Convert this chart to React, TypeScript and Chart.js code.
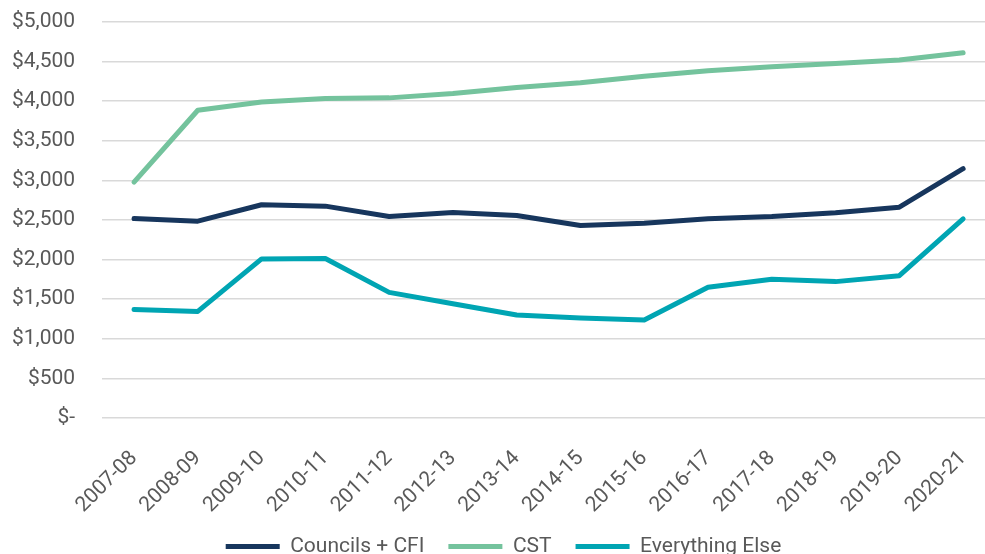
import React, { useEffect, useRef } from "react";
import { Chart, registerables } from "chart.js";

Chart.register(...registerables);

const categories = [
  "2007-08", "2008-09", "2009-10", "2010-11", "2011-12", "2012-13", "2013-14",
  "2014-15", "2015-16", "2016-17", "2017-18", "2018-19", "2019-20", "2020-21",
];

const councilsCfi = [2519, 2485, 2692, 2675, 2544, 2595, 2557, 2430, 2460, 2515, 2544, 2591, 2662, 3148];
const cst = [2978, 3886, 3991, 4034, 4042, 4097, 4173, 4232, 4316, 4384, 4434, 4477, 4519, 4612];
const everythingElse = [1371, 1346, 2009, 2013, 1586, 1443, 1300, 1262, 1237, 1650, 1751, 1722, 1797, 2515];

const yTicks = [0, 500, 1000, 1500, 2000, 2500, 3000, 3500, 4000, 4500, 5000];

const Y_PAD = 27;
const X_PAD = 28;

export default function App() {
  const ref = useRef<HTMLCanvasElement | null>(null);

  useEffect(() => {
    if (!ref.current) return;
    const font = "Roboto";
    const chart = new Chart(ref.current, {
      type: "line",
      data: {
        labels: categories,
        datasets: [
          { label: "Councils + CFI", data: councilsCfi, borderColor: "#17365D", backgroundColor: "#17365D" },
          { label: "CST", data: cst, borderColor: "#74C39D", backgroundColor: "#74C39D" },
          { label: "Everything Else", data: everythingElse, borderColor: "#00A5B3", backgroundColor: "#00A5B3" },
        ].map((d) => ({
          ...d,
          borderWidth: 5,
          pointRadius: 0,
          pointStyle: "line" as const,
          tension: 0,
          borderJoinStyle: "round" as const,
          borderCapStyle: "round" as const,
          fill: false,
        })),
      },
      options: {
        responsive: false,
        animation: false,
        layout: { padding: { left: 12, right: 5, top: 10, bottom: -13 } },
        scales: {
          x: {
            offset: true,
            grid: { display: false, drawTicks: false },
            border: { display: false },
            ticks: {
              minRotation: 45,
              maxRotation: 45,
              color: "#595959",
              font: { family: font, size: 21 },
              padding: X_PAD,
            },
            afterFit: (axis: any) => {
              axis.paddingLeft = 0;
              axis.paddingRight = 0;
              axis.height -= X_PAD + 6;
            },
          },
          y: {
            min: 0,
            max: 5000,
            afterBuildTicks: (axis: any) => {
              axis.ticks = yTicks.map((v) => ({ value: v }));
            },
            afterFit: (axis: any) => {
              axis.paddingTop = 22;
              axis.paddingBottom = 12;
              axis.width -= Y_PAD;
            },
            grid: { color: "#d9d9d9", lineWidth: 1.5, drawTicks: false },
            border: { display: false },
            ticks: {
              color: "#595959",
              font: { family: font, size: 21 },
              padding: Y_PAD,
              callback: (v: any) => (Number(v) === 0 ? "$-" : "$" + Number(v).toLocaleString("en-US")),
            },
          },
        },
        plugins: {
          legend: {
            position: "bottom",
            labels: {
              usePointStyle: true,
              pointStyleWidth: 54,
              boxHeight: 5,
              padding: 24,
              color: "#595959",
              font: { family: font, size: 21 },
            },
          },
          tooltip: { enabled: false },
        },
      },
    });
    return () => chart.destroy();
  }, []);

  return (
    <div style={{ position: "fixed", left: 0, top: 0, width: 985, height: 554, overflow: "hidden", background: "#fff" }}>
      <canvas ref={ref} width={1000} height={554} style={{ display: "block" }} />
    </div>
  );
}
